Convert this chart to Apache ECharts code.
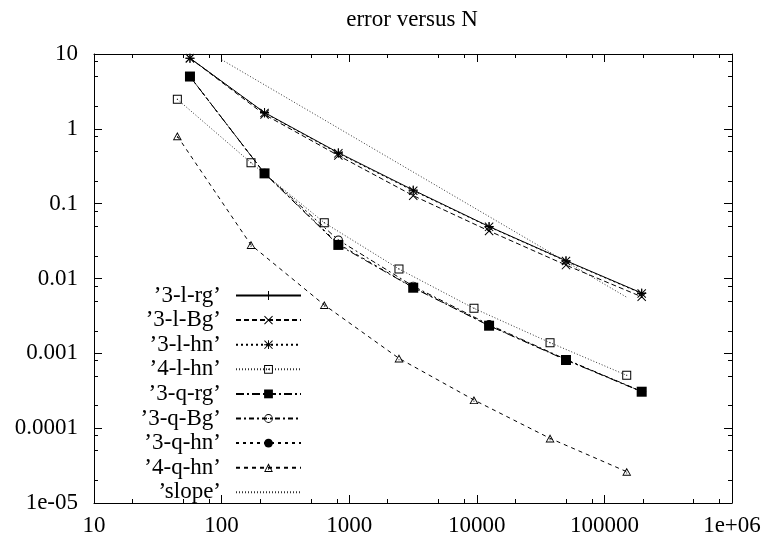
<!DOCTYPE html>
<html><head><meta charset="utf-8">
<script src="https://cdn.jsdelivr.net/npm/echarts@6/dist/echarts.min.js"></script>
<style>html,body{margin:0;padding:0;background:#fff}#c{width:769px;height:542px}</style>
</head><body><div id="c"></div>
<script>
const chartTitle = 'error versus N';
const seriesNames = ['3-l-rg','3-l-Bg','3-l-hn','4-l-hn','3-q-rg','3-q-Bg','3-q-hn','4-q-hn','slope'];
const N3 = [56.5, 217, 822, 3175, 12480, 50000, 196000];
const N4 = [45, 170, 638, 2455, 9500, 37500, 149600];
const Nslope = [100, 150000];
const err3lrg = [8.8, 1.65, 0.48, 0.152, 0.0495, 0.0173, 0.0064];
const err3lBg = [8.8, 1.55, 0.44, 0.128, 0.0432, 0.0151, 0.0057];
const err3lhn = [8.8, 1.63, 0.47, 0.149, 0.0490, 0.0171, 0.0063];
const err4lhn = [2.48, 0.352, 0.0557, 0.0134, 0.00399, 0.00139, 0.000508];
const err3qrg = [5.0, 0.254, 0.0281, 0.00753, 0.00234, 0.000815, 0.000307];
const err3qBg = [5.0, 0.254, 0.0327, 0.0079, 0.00242, 0.00083, 0.00031];
const err3qhn = [5.0, 0.254, 0.0290, 0.0076, 0.00236, 0.00082, 0.000308];
const err4qhn = [0.80, 0.0281, 0.00443, 0.000857, 0.000238, 7.31e-5, 2.62e-5];
const errSlope = [8.4, 0.0056];
const xTickLabels = ['10','100','1000','10000','100000','1e+06'];
const yTickLabels = ['1e-05','0.0001','0.001','0.01','0.1','1','10'];
const xMinorTicks = [20,50,80,200,500,800,2000,5000,8000,20000,50000,80000,200000,500000,800000];
const yMinorTicks = [2e-5,5e-5,8e-5,2e-4,5e-4,8e-4,2e-3,5e-3,8e-3,0.02,0.05,0.08,0.2,0.5,0.8,2,5,8];

const FONT = 'Liberation Serif';
const FS = 23;
const pts = (xs, ys) => xs.map((x, i) => [x, ys[i]]);
const q = n => '\u2019' + n + '\u2019';

const SYM = {
  plus: 'path://M4,0h1v9h-1zM0,4h9v1h-9z',
  cross: 'path://M0,0.7L0.7,0L9,8.3L8.3,9ZM9,0.7L0.7,9L0,8.3L8.3,0Z',
  star: 'path://M4,0h1v9h-1zM0,4h9v1h-9zM0,0.7L0.7,0L9,8.3L8.3,9ZM9,0.7L0.7,9L0,8.3L8.3,0Z',
  osq: 'path://M0,0h9v9h-9zM1,1v7h7v-7zM4,4h1v1h-1z',
  ocirc: 'path://M5,0A5,5,0,1,1,5,10A5,5,0,1,1,5,0ZM5,1A4,4,0,1,0,5,9A4,4,0,1,0,5,1ZM4.5,4.5h1v1h-1z',
  otri: 'path://M5,0L10,9L0,9ZM5,2.2L1.6,8L8.4,8ZM4.5,5.5h1v1h-1z'
};

function mk(name, xs, ys, symbol, size, dash, color) {
  return {
    type: 'line', name: q(name), data: pts(xs, ys),
    symbol: symbol, symbolSize: size, symbolKeepAspect: true,
    showSymbol: symbol !== 'none',
    lineStyle: { color: color || '#000', width: 1, type: dash },
    itemStyle: { color: '#000', borderWidth: 0 },
    emphasis: { disabled: true }, silent: true, z: 3
  };
}

const series = [
  mk('3-l-rg', N3, err3lrg, SYM.plus, 9, 'solid'),
  mk('3-l-Bg', N3, err3lBg, SYM.cross, 9, [5, 3]),
  mk('3-l-hn', N3, err3lhn, SYM.star, 9, [2, 3]),
  mk('4-l-hn', N4, err4lhn, SYM.osq, 9, [1, 2], '#333'),
  mk('3-q-rg', N3, err3qrg, 'rect', 10, [8, 3, 2, 3]),
  mk('3-q-Bg', N3, err3qBg, SYM.ocirc, 9, [5, 3, 2, 3]),
  mk('3-q-hn', N3, err3qhn, 'circle', 8, [3, 4]),
  mk('4-q-hn', N4, err4qhn, SYM.otri, 9, [4, 4]),
  mk('slope', Nslope, errSlope, 'none', 1, [1, 2], '#333')
];

const lineBlack = { show: true, onZero: false, lineStyle: { color: '#000', width: 1 } };
const xFmt = v => xTickLabels[Math.round(Math.log10(v)) - 1];
const yFmt = v => yTickLabels[Math.round(Math.log10(v)) + 5];
const labelStyle = { fontFamily: FONT, fontSize: FS, color: '#000' };

function xAx(pos, major, showLabel) {
  return {
    type: 'log', min: 10, max: 1e6, splitNumber: 10, position: pos,
    axisLine: major ? lineBlack : { show: false },
    axisTick: major ? { show: true, inside: true, length: 8, lineStyle: { color: '#000', width: 1 } }
                    : { show: true, inside: true, length: 4, customValues: xMinorTicks, lineStyle: { color: '#000', width: 1 } },
    axisLabel: showLabel ? Object.assign({ show: true, formatter: xFmt, margin: 11 }, labelStyle) : { show: false },
    splitLine: { show: false }, minorTick: { show: false }
  };
}
function yAx(pos, major, showLabel) {
  return {
    type: 'log', min: 1e-5, max: 10, splitNumber: 10, position: pos,
    axisLine: major ? lineBlack : { show: false },
    axisTick: major ? { show: true, inside: true, length: 8, lineStyle: { color: '#000', width: 1 } }
                    : { show: true, inside: true, length: 4, customValues: yMinorTicks, lineStyle: { color: '#000', width: 1 } },
    axisLabel: showLabel ? Object.assign({ show: true, formatter: yFmt, margin: 16 }, labelStyle) : { show: false },
    splitLine: { show: false }, minorTick: { show: false }
  };
}

const chart = echarts.init(document.getElementById('c'), null, { renderer: 'canvas' });
chart.setOption({
  animation: false,
  backgroundColor: '#fff',
  title: { text: chartTitle, left: 412, top: 8, textAlign: 'center', padding: 0,
           textStyle: { fontFamily: FONT, fontSize: FS, fontWeight: 'normal', color: '#000' } },
  grid: { left: 94, right: 37, top: 54, bottom: 39, containLabel: false },
  xAxis: [xAx('bottom', true, true), xAx('top', true, false), xAx('bottom', false, false), xAx('top', false, false)],
  yAxis: [yAx('left', true, true), yAx('right', true, false), yAx('left', false, false), yAx('right', false, false)],
  legend: {
    orient: 'vertical', align: 'right', right: 467, top: 284, padding: 0,
    itemWidth: 65, itemHeight: 11, itemGap: 1.6, selectedMode: false,
    textStyle: { fontFamily: FONT, fontSize: FS, color: '#000', lineHeight: 22, padding: [0, 10, 0, 0] },
    data: seriesNames.map(n => n === 'slope'
      ? { name: q(n), itemStyle: { color: 'rgba(0,0,0,0)' } }
      : { name: q(n) })
  },
  series: series
});
</script></body></html>
